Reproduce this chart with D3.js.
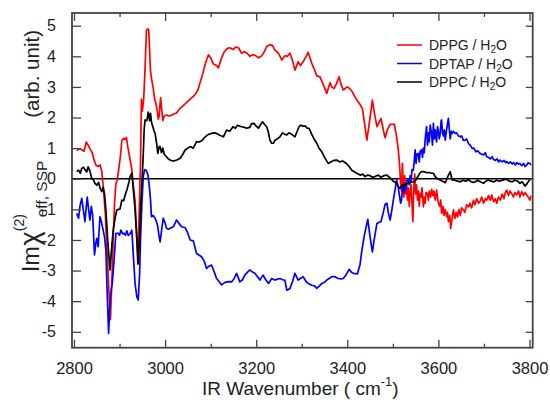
<!DOCTYPE html>
<html><head><meta charset="utf-8">
<script src="https://cdn.jsdelivr.net/npm/d3@7"></script>
<style>body{margin:0;background:#fff;} text{font-family:"Liberation Sans",Arial,sans-serif;}</style>
</head><body><svg id="c" width="550" height="405"></svg>
<script>
// ---- data ----
const dppgWn = [2806,2812,2817,2822,2827,2831,2836,2840,2844,2848,2853,2857,2861,2865,2869,2873,2877,2880,2883,2886,2889,2892,2895,2898,2902,2905,2909,2912,2915,2918,2921,2924,2927,2930,2934,2937,2940,2943,2946,2948,2950,2953,2956,2959,2962,2964,2966,2968,2971,2974,2977,2980,2983,2985,2987,2990,2993,2995,2998,3003,3010,3017,3025,3033,3044,3055,3066,3072,3077,3083,3088,3095,3100,3106,3113,3117,3124,3130,3136,3142,3149,3155,3161,3168,3174,3180,3186,3192,3198,3205,3211,3216,3223,3230,3236,3241,3249,3256,3263,3268,3274,3280,3285,3292,3297,3303,3309,3314,3322,3327,3333,3340,3348,3355,3362,3366,3371,3376,3382,3386,3391,3400,3405,3411,3416,3421,3427,3433,3438,3443,3449,3455,3460,3465,3470,3474,3479,3483,3488,3494,3503,3508,3512,3515,3517,3519,3521,3523,3524,3526,3528,3530,3532,3534,3536,3538,3540,3542,3544,3546,3548,3550,3552,3554,3556,3558,3560,3562,3564,3567,3569,3571,3573,3576,3578,3580,3583,3585,3588,3590,3593,3596,3598,3600,3603,3605,3607,3610,3612,3615,3618,3620,3622,3625,3627,3630,3633,3636,3639,3642,3645,3648,3651,3655,3658,3662,3666,3669,3673,3677,3680,3684,3688,3691,3695,3699,3703,3706,3710,3714,3717,3721,3725,3728,3732,3736,3740,3744,3747,3750,3754,3757,3761,3765,3768,3772,3776,3779,3783,3787,3790,3794,3797,3801,3803];
const dppgVal = [0.92,0.98,0.95,0.90,1.20,1.10,0.95,0.85,0.62,0.45,0.40,0.45,0.25,-0.4,-1.2,-2.5,-3.8,-4.6,-3.4,-2.0,-0.8,-0.15,-0.05,0.30,0.75,1.25,1.32,1.28,1.35,1.05,0.80,0.55,0.30,-0.2,-0.7,-1.6,-2.8,-1.2,0.5,2.6,2.2,2.6,3.6,4.85,4.9,4.85,4.2,3.5,3.2,2.95,2.6,2.45,2.2,1.95,2.05,2.65,2.2,1.9,2.05,2.08,2.05,2.1,2.15,2.3,2.45,2.6,2.75,2.9,3.15,3.45,3.75,4.05,3.95,3.75,3.70,3.62,3.95,4.15,4.25,4.28,4.22,4.3,4.28,4.1,4.15,4.1,4.0,4.05,4.03,3.95,4.0,4.1,4.32,4.38,4.35,4.2,4.1,3.88,4.02,4.0,4.1,3.85,3.55,3.82,3.7,3.82,3.98,4.13,3.77,3.6,3.36,3.33,3.05,2.79,3.14,3.0,2.95,3.1,3.33,3.1,2.9,3.0,2.95,2.84,2.7,2.57,2.45,2.3,1.8,1.26,1.9,2.57,2.1,1.7,1.85,1.97,1.6,1.34,1.6,1.78,1.78,1.4,0.94,0.40,-0.15,-0.40,0.5,-0.3,-0.6,0.1,-0.5,-0.2,-0.7,-0.3,-0.9,-0.4,-0.2,-0.8,-1.4,-0.3,0.15,-0.5,-0.2,-0.7,-0.4,-0.9,-0.48,-0.6,-0.3,-0.92,-0.6,-0.8,-0.45,-0.48,-0.7,-0.4,-0.6,-0.35,-0.55,-0.4,-0.7,-0.37,-0.6,-0.8,-0.9,-0.7,-1.13,-0.9,-1.2,-1.0,-1.24,-1.1,-1.4,-1.2,-1.62,-1.3,-1.02,-1.3,-1.1,-1.25,-1.0,-1.2,-0.95,-1.02,-1.1,-0.85,-0.92,-0.8,-0.95,-0.7,-0.85,-0.65,-0.8,-0.75,-0.6,-0.8,-0.65,-0.7,-0.55,-0.7,-0.53,-0.75,-0.65,-0.8,-0.6,-0.7,-0.5,-0.65,-0.45,-0.37,-0.55,-0.4,-0.48,-0.6,-0.45,-0.53,-0.4,-0.6,-0.42,-0.55,-0.45,-0.53,-0.6,-0.7,-0.55];

const dptapWn = [2806,2810,2813,2817,2820,2824,2827,2829,2832,2835,2838,2841,2845,2848,2850,2853,2857,2860,2864,2867,2870,2873,2876,2879,2882,2884,2888,2892,2897,2900,2903,2907,2910,2913,2916,2919,2923,2927,2930,2934,2938,2941,2944,2946,2949,2952,2955,2958,2962,2965,2968,2970,2974,2978,2981,2984,2987,2989,2993,2996,3000,3003,3007,3011,3018,3025,3030,3036,3044,3049,3055,3062,3069,3075,3080,3086,3091,3097,3102,3108,3113,3118,3124,3130,3135,3141,3146,3152,3157,3164,3170,3175,3181,3186,3192,3197,3203,3208,3215,3221,3227,3234,3241,3247,3252,3258,3263,3267,3274,3280,3285,3290,3292,3298,3303,3309,3314,3322,3328,3333,3339,3344,3350,3355,3361,3366,3373,3380,3386,3391,3397,3404,3409,3413,3418,3422,3428,3432,3438,3445,3450,3455,3460,3465,3470,3474,3479,3483,3487,3490,3494,3498,3501,3505,3508,3511,3514,3517,3519,3521,3523,3525,3527,3529,3531,3534,3536,3538,3540,3542,3545,3547,3549,3551,3553,3556,3558,3560,3563,3565,3567,3569,3571,3574,3576,3578,3580,3582,3585,3587,3589,3591,3593,3596,3598,3600,3602,3604,3606,3607,3609,3611,3613,3615,3617,3620,3622,3624,3626,3628,3630,3633,3637,3640,3644,3648,3651,3655,3659,3662,3666,3670,3674,3678,3682,3686,3691,3695,3699,3703,3706,3710,3714,3718,3721,3725,3729,3732,3735,3740,3744,3748,3750,3754,3758,3762,3765,3769,3772,3776,3779,3783,3787,3790,3794,3797,3801,3803];
const dptapVal = [-1.13,-1.29,-0.9,-0.64,-0.97,-1.4,-0.9,-0.6,-1.0,-1.35,-0.9,-1.2,-2.49,-2.1,-1.95,-2.22,-1.24,-1.4,-1.68,-1.9,-2.33,-3.8,-5.05,-3.96,-3.6,-3.42,-2.66,-1.78,-1.78,-1.85,-1.68,-1.8,-1.78,-1.85,-1.7,-1.85,-1.8,-1.68,-2.44,-3.42,-3.86,-3.96,-3.1,-2.0,-0.8,0.07,0.3,0.28,0.15,-0.2,-0.7,-1.24,-1.2,-1.29,-1.4,-1.57,-1.9,-2.06,-1.6,-1.29,-1.45,-1.62,-1.65,-1.62,-1.57,-1.35,-1.45,-1.57,-1.6,-1.75,-2.0,-2.03,-2.44,-2.5,-2.55,-2.7,-2.93,-2.85,-2.82,-3.05,-3.26,-3.35,-3.47,-3.4,-3.37,-3.36,-3.37,-3.25,-3.09,-3.37,-3.3,-3.15,-3.05,-2.98,-3.05,-3.09,-3.2,-3.31,-3.15,-3.3,-3.42,-3.26,-3.31,-3.28,-3.26,-3.3,-3.31,-3.64,-3.59,-3.35,-3.09,-3.25,-3.31,-3.25,-3.2,-3.35,-3.42,-3.48,-3.5,-3.58,-3.5,-3.42,-3.38,-3.31,-3.25,-3.2,-3.2,-3.26,-3.27,-3.26,-3.15,-2.96,-3.05,-3.09,-3.1,-3.11,-2.8,-2.33,-1.8,-1.33,-1.9,-2.39,-1.9,-1.46,-1.42,-1.4,-1.1,-0.83,-0.8,-1.1,-1.35,-1.0,-0.7,-0.35,-0.04,-0.2,-0.5,-0.8,-0.7,-0.3,-0.26,-0.45,-0.15,-0.35,-0.05,-0.04,-0.2,0.1,-0.1,0.3,0.28,0.6,0.94,0.5,0.8,0.83,0.55,0.9,0.94,0.7,1.0,0.85,1.3,1.7,1.1,1.5,1.2,1.75,1.48,1.1,1.81,1.3,1.6,1.2,1.7,1.55,1.3,1.48,1.9,1.92,1.5,1.4,1.6,1.26,1.5,1.8,1.97,1.6,1.3,1.55,1.48,1.55,1.48,1.5,1.4,1.37,1.4,1.25,1.26,1.3,1.15,1.1,0.99,1.0,0.88,0.92,0.83,0.8,0.78,0.85,0.72,0.7,0.65,0.72,0.63,0.6,0.65,0.55,0.61,0.55,0.6,0.52,0.56,0.5,0.55,0.48,0.53,0.45,0.52,0.48,0.5,0.43,0.5,0.4,0.45,0.52,0.5,0.45];

const dppcWn = [2806,2810,2814,2817,2821,2824,2828,2831,2835,2839,2843,2846,2850,2854,2857,2861,2864,2867,2870,2874,2879,2883,2886,2890,2894,2898,2901,2905,2909,2912,2916,2920,2923,2927,2930,2934,2938,2941,2944,2946,2949,2952,2954,2956,2960,2963,2966,2968,2970,2973,2976,2978,2981,2984,2987,2989,2992,2995,2998,3003,3007,3011,3016,3021,3027,3033,3039,3044,3050,3055,3062,3069,3075,3081,3088,3095,3102,3108,3113,3120,3128,3135,3142,3149,3154,3159,3164,3168,3174,3179,3186,3190,3195,3200,3205,3210,3214,3218,3223,3227,3230,3234,3238,3241,3246,3252,3258,3263,3267,3272,3278,3285,3290,3294,3298,3303,3308,3312,3316,3322,3327,3333,3338,3344,3350,3358,3364,3370,3377,3383,3390,3398,3404,3410,3416,3421,3428,3434,3439,3445,3450,3455,3461,3468,3474,3480,3487,3492,3498,3503,3508,3512,3516,3520,3523,3528,3534,3540,3545,3550,3556,3560,3563,3568,3574,3580,3585,3589,3593,3598,3604,3609,3615,3620,3626,3630,3636,3642,3648,3654,3660,3666,3672,3677,3681,3686,3692,3699,3704,3710,3716,3722,3728,3734,3740,3746,3750,3756,3762,3768,3774,3779,3784,3790,3795,3801];
const dppcVal = [0.23,0.28,0.18,0.34,0.38,0.30,0.22,0.39,0.25,0.01,-0.05,-0.15,-0.21,-0.12,-0.30,-0.42,-0.28,-0.5,-1.02,-2.0,-2.98,-2.2,-1.68,-1.3,-1.02,-1.0,-0.99,-0.7,-0.72,-0.55,-0.37,-0.15,0.07,0.18,-0.3,-1.02,-2.0,-2.77,-1.9,-1.0,-0.2,0.8,1.6,1.92,1.9,2.18,1.9,2.14,1.85,1.7,1.55,1.48,1.2,0.83,1.05,1.05,0.85,1.0,0.8,0.72,0.65,0.61,0.58,0.59,0.62,0.67,0.8,0.94,1.0,1.05,1.0,1.21,1.2,1.25,1.37,1.45,1.48,1.5,1.48,1.42,1.37,1.59,1.55,1.7,1.65,1.75,1.72,1.7,1.68,1.65,1.68,1.8,1.81,1.72,1.65,1.78,1.86,1.78,1.7,1.5,1.26,1.16,1.16,1.26,1.3,1.37,1.5,1.45,1.43,1.5,1.45,1.37,1.55,1.7,1.75,1.72,1.72,1.65,1.65,1.45,1.3,1.16,1.0,0.88,0.7,0.5,0.55,0.6,0.61,0.55,0.58,0.5,0.4,0.28,0.22,0.18,0.12,0.15,0.07,0.12,0.1,0.05,0.07,0.12,0.05,0.1,0.12,0.05,-0.04,-0.1,-0.15,-0.26,-0.31,-0.22,-0.21,-0.18,-0.15,-0.12,-0.1,-0.05,0.1,0.2,0.23,0.23,0.2,0.2,0.18,0.18,0.07,0.0,-0.04,-0.08,-0.13,0.05,0.23,-0.04,-0.05,-0.08,-0.1,-0.05,-0.08,-0.03,-0.1,-0.12,-0.1,-0.05,-0.1,-0.15,-0.08,-0.04,-0.08,-0.1,-0.05,-0.08,-0.05,-0.02,-0.02,-0.08,-0.1,-0.05,-0.08,-0.15,-0.1,-0.24,-0.15,-0.02];

const xTicks = [2800,3000,3200,3400,3600,3800];
const xMinor = [2900,3100,3300,3500,3700];
const yTicks = [-5,-4,-3,-2,-1,0,1,2,3,4,5];
const seriesNames = ["DPPG / H", "DPTAP / H", "DPPC / H"];
const seriesColors = ["#ff0000", "#0000ff", "#000000"];

// ---- layout ----
const svg = d3.select("#c");
const L = 72, R = 532.7, T = 13, B = 347.7;
const x = d3.scaleLinear().domain([2795.6, 3807]).range([L, R]);
const y = d3.scaleLinear().domain([-5.52, 5.415]).range([B, T]);
const axisColor = "#444";

const series = [
  {wn: dppgWn, v: dppgVal},
  {wn: dptapWn, v: dptapVal},
  {wn: dppcWn, v: dppcVal}
];

// zero line
svg.append("line").attr("x1", L).attr("x2", R).attr("y1", y(0)).attr("y2", y(0))
  .attr("stroke", "#000").attr("stroke-width", 1.3);

const line = d3.line().x(d => x(d[0])).y(d => y(d[1]));
series.forEach((s, i) => {
  const pts = s.wn.map((w, j) => [w, s.v[j]]);
  svg.append("path").datum(pts).attr("d", line).attr("fill", "none")
    .attr("stroke", seriesColors[i]).attr("stroke-width", 1.7).attr("stroke-linejoin", "round");
});

// axes
function styleAxis(g) {
  g.select(".domain").remove();
  g.selectAll(".tick line").attr("stroke", axisColor).attr("stroke-width", 1.3);
  g.selectAll(".tick text").attr("fill", "#222").attr("font-family", "Liberation Sans, Arial, sans-serif");
}
const xb = svg.append("g").attr("transform", `translate(0,${B})`)
  .call(d3.axisBottom(x).tickValues(xTicks).tickFormat(d3.format("d")).tickSizeInner(-8).tickSizeOuter(0).tickPadding(15));
styleAxis(xb); xb.selectAll(".tick text").attr("font-size", 16.5);
const xbm = svg.append("g").attr("transform", `translate(0,${B})`)
  .call(d3.axisBottom(x).tickValues(xMinor).tickFormat("").tickSizeInner(-4).tickSizeOuter(0));
styleAxis(xbm);
const xt = svg.append("g").attr("transform", `translate(0,${T})`)
  .call(d3.axisTop(x).tickValues(xTicks).tickFormat("").tickSizeInner(-8).tickSizeOuter(0));
styleAxis(xt);
const xtm = svg.append("g").attr("transform", `translate(0,${T})`)
  .call(d3.axisTop(x).tickValues(xMinor).tickFormat("").tickSizeInner(-4).tickSizeOuter(0));
styleAxis(xtm);
const yl = svg.append("g").attr("transform", `translate(${L},0)`)
  .call(d3.axisLeft(y).tickValues(yTicks).tickFormat(d3.format("d")).tickSizeInner(-9).tickSizeOuter(0).tickPadding(16));
styleAxis(yl); yl.selectAll(".tick text").attr("font-size", 16).text(d => d < 0 ? "-" + Math.abs(d) : d);
const yr = svg.append("g").attr("transform", `translate(${R},0)`)
  .call(d3.axisRight(y).tickValues(yTicks).tickFormat("").tickSizeInner(-7).tickSizeOuter(0));
styleAxis(yr);

// frame
svg.append("rect").attr("x", L).attr("y", T).attr("width", R - L).attr("height", B - T)
  .attr("fill", "none").attr("stroke", axisColor).attr("stroke-width", 1.8);

// x title
const xtitle = svg.append("text").attr("x", 202).attr("y", 395).attr("font-size", 19).attr("fill", "#222");
xtitle.append("tspan").text("IR Wavenumber ( cm");
xtitle.append("tspan").attr("font-size", 13).attr("dy", -9).text("-1");
xtitle.append("tspan").attr("dy", 9).text(")");

// y title (pieces placed along the rotated baseline)
function rotText(bx, by, size, str, anchor) {
  return svg.append("text").attr("transform", `translate(${bx},${by}) rotate(-90)`)
    .attr("font-size", size).attr("fill", "#222").attr("text-anchor", anchor || "start").text(str);
}
const tIm = rotText(39, 272, 23, "Im");
const imLen = tIm.node().getComputedTextLength();
const tChi = rotText(39, 272 - imLen - 1, 27, "χ");
const chiEnd = 272 - imLen - 1 - tChi.node().getComputedTextLength();
rotText(24, chiEnd, 14, "(2)");
rotText(46.5, chiEnd - 14, 15.5, "eff, SSP");
rotText(39, 30, 20.5, "(arb. unit)", "end");

// legend
const legY = [45, 63.5, 82];
seriesNames.forEach((n, i) => {
  svg.append("line").attr("x1", 397).attr("x2", 422).attr("y1", legY[i]).attr("y2", legY[i])
    .attr("stroke", seriesColors[i]).attr("stroke-width", 1.5);
  const t = svg.append("text").attr("x", 429).attr("y", legY[i] + 5).attr("font-size", 14).attr("fill", "#222");
  t.append("tspan").text(n);
  t.append("tspan").attr("font-size", 10).attr("dy", 3).text("2");
  t.append("tspan").attr("dy", -3).text("O");
});
</script></body></html>
